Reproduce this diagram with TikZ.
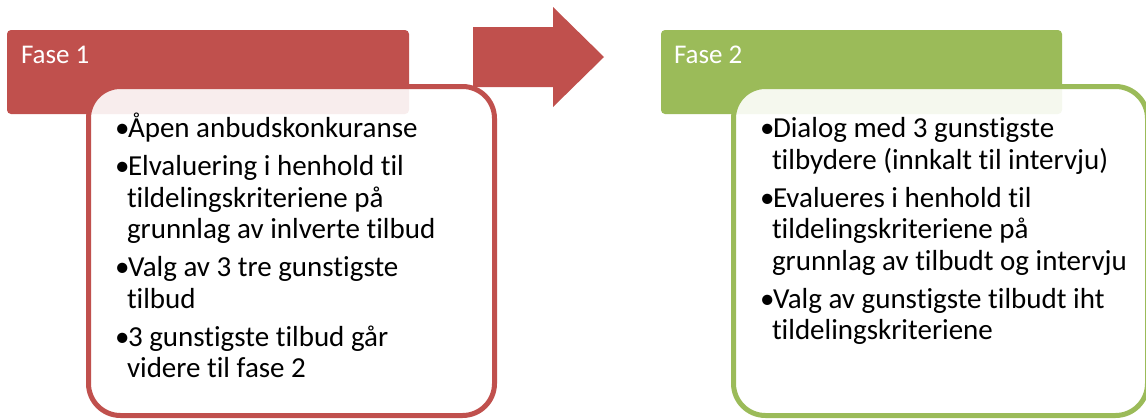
\documentclass[tikz,border=0pt]{standalone}
\usepackage{fontspec}
\setmainfont{Carlito}[Ligatures=NoCommon]
\definecolor{redc}{HTML}{C0504D}
\definecolor{greenc}{HTML}{9BBB59}
\tikzset{
  header/.style={rounded corners=4pt, draw=none},
  boxx/.style={rounded corners=32pt, line width=5pt, fill=white, fill opacity=0.9},
  txt/.style={anchor=base west, inner sep=0pt, outer sep=0pt, font=\fontsize{29}{31.5}\selectfont, text=black},
  htxt/.style={anchor=base west, inner sep=0pt, outer sep=0pt, font=\fontsize{27}{31.5}\selectfont, text=white},
}
\begin{document}
\begin{tikzpicture}[x=1pt,y=-1pt]
\useasboundingbox (0,0) rectangle (1146,418);
% headers
\fill[redc, header] (7,30) rectangle (409,114);
\fill[greenc, header] (661,30) rectangle (1062,114);
% arrow
\fill[redc] (473,27) -- (553,27) -- (553,7) -- (604,57) -- (553,107) -- (553,87) -- (473,87) -- cycle;
% boxes
\draw[boxx, draw=redc] (88.5,86.5) rectangle (494.5,415.5);
\draw[boxx, draw=greenc] (733.5,86.5) rectangle (1147.5,415.5);
% header texts
\node[htxt] (f1) at (21,63) {Fase 1};
\node[htxt] (f2) at (674,63) {Fase 2};
% red text
\node[txt] (rb1) at (115,137.5) {•};
\node[txt] (r1) at (128,137.5) {Åpen anbudskonkuranse};
\node[txt] (rb2) at (115,175.5) {•};
\node[txt] (r2) at (128,175.5) {Elvaluering i henhold til};
\node[txt] (r3) at (127,207) {tildelingskriteriene på};
\node[txt] (r4) at (127,238.5) {grunnlag av inlverte tilbud};
\node[txt] (rb3) at (115,276.5) {•};
\node[txt] (r5) at (128,276.5) {Valg av 3 tre gunstigste};
\node[txt] (r6) at (127,308) {tilbud};
\node[txt] (rb4) at (115,346) {•};
\node[txt] (r7) at (128,346) {3 gunstigste tilbud går};
\node[txt] (r8) at (127,377.5) {videre til fase 2};
% green text
\node[txt] (gb1) at (760,137.5) {•};
\node[txt] (g1) at (773,137.5) {Dialog med 3 gunstigste};
\node[txt] (g2) at (772,169) {tilbydere (innkalt til intervju)};
\node[txt] (gb2) at (760,207) {•};
\node[txt] (g3) at (773,207) {Evalueres i henhold til};
\node[txt] (g4) at (772,238.5) {tildelingskriteriene på};
\node[txt] (g5) at (772,270) {grunnlag av tilbudt og intervju};
\node[txt] (gb3) at (760,308) {•};
\node[txt] (g6) at (773,308) {Valg av gunstigste tilbudt iht};
\node[txt] (g7) at (772,339.5) {tildelingskriteriene};
\end{tikzpicture}
\end{document}
